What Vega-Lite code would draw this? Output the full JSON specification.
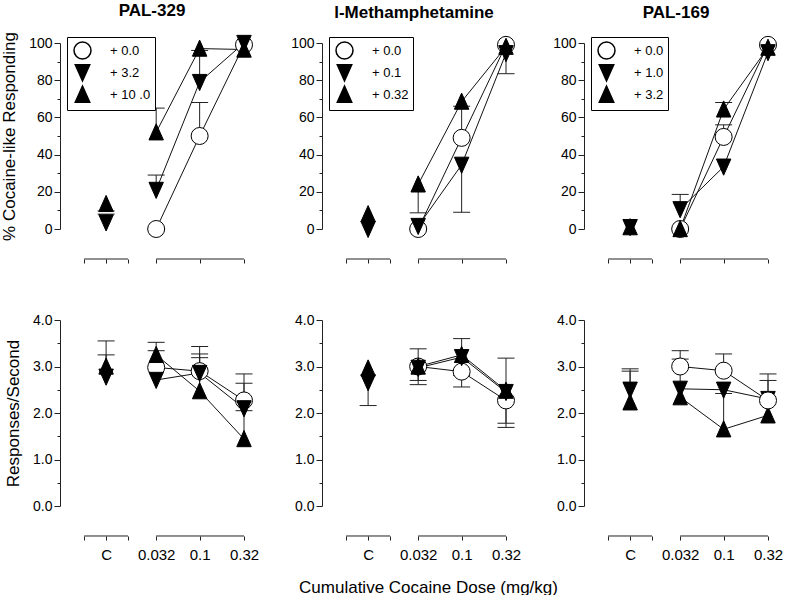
{
  "$schema": "https://vega.github.io/schema/vega-lite/v6.json",
  "padding": {"left": 0, "top": 1, "right": 0, "bottom": 0},
  "config": {
    "font": "Liberation Sans",
    "view": {"stroke": null},
    "axis": {"grid": false, "domainColor": "#222", "tickColor": "#222", "labelColor": "black", "titleColor": "black", "titleFontWeight": "normal"},
    "legend": {"labelFont": "Liberation Sans", "labelColor": "black"},
    "title": {"color": "black"}
  },
  "datasets": {
    "d": [
      {"drug": "PAL-329", "m": "pct", "dose": "0.032", "grp": "+ 0.0", "val": 0, "err": null},
      {"drug": "PAL-329", "m": "pct", "dose": "0.1", "grp": "+ 0.0", "val": 50, "err": 68},
      {"drug": "PAL-329", "m": "pct", "dose": "0.32", "grp": "+ 0.0", "val": 99, "err": null},
      {"drug": "PAL-329", "m": "pct", "dose": "C", "grp": "+ 3.2", "val": 3.5, "err": 8},
      {"drug": "PAL-329", "m": "pct", "dose": "0.032", "grp": "+ 3.2", "val": 21, "err": 29},
      {"drug": "PAL-329", "m": "pct", "dose": "0.1", "grp": "+ 3.2", "val": 79, "err": 96},
      {"drug": "PAL-329", "m": "pct", "dose": "0.32", "grp": "+ 3.2", "val": 100, "err": null},
      {"drug": "PAL-329", "m": "pct", "dose": "C", "grp": "+ 10 .0", "val": 13.5, "err": 9.7},
      {"drug": "PAL-329", "m": "pct", "dose": "0.032", "grp": "+ 10 .0", "val": 52, "err": 65},
      {"drug": "PAL-329", "m": "pct", "dose": "0.1", "grp": "+ 10 .0", "val": 97, "err": null},
      {"drug": "PAL-329", "m": "pct", "dose": "0.32", "grp": "+ 10 .0", "val": 96.5, "err": null},

      {"drug": "l-Meth", "m": "pct", "dose": "0.032", "grp": "+ 0.0", "val": 0, "err": null},
      {"drug": "l-Meth", "m": "pct", "dose": "0.1", "grp": "+ 0.0", "val": 49, "err": 66},
      {"drug": "l-Meth", "m": "pct", "dose": "0.32", "grp": "+ 0.0", "val": 99, "err": null},
      {"drug": "l-Meth", "m": "pct", "dose": "C", "grp": "+ 0.1", "val": 0, "err": null},
      {"drug": "l-Meth", "m": "pct", "dose": "0.032", "grp": "+ 0.1", "val": 1.6, "err": null},
      {"drug": "l-Meth", "m": "pct", "dose": "0.1", "grp": "+ 0.1", "val": 34.5, "err": 9},
      {"drug": "l-Meth", "m": "pct", "dose": "0.32", "grp": "+ 0.1", "val": 94.5, "err": 83.5},
      {"drug": "l-Meth", "m": "pct", "dose": "C", "grp": "+ 0.32", "val": 8, "err": null},
      {"drug": "l-Meth", "m": "pct", "dose": "0.032", "grp": "+ 0.32", "val": 24, "err": 8.7},
      {"drug": "l-Meth", "m": "pct", "dose": "0.1", "grp": "+ 0.32", "val": 68.5, "err": null},
      {"drug": "l-Meth", "m": "pct", "dose": "0.32", "grp": "+ 0.32", "val": 98, "err": null},

      {"drug": "PAL-169", "m": "pct", "dose": "0.032", "grp": "+ 0.0", "val": 0, "err": null},
      {"drug": "PAL-169", "m": "pct", "dose": "0.1", "grp": "+ 0.0", "val": 49.5, "err": 56},
      {"drug": "PAL-169", "m": "pct", "dose": "0.32", "grp": "+ 0.0", "val": 99, "err": null},
      {"drug": "PAL-169", "m": "pct", "dose": "C", "grp": "+ 1.0", "val": 1, "err": null},
      {"drug": "PAL-169", "m": "pct", "dose": "0.032", "grp": "+ 1.0", "val": 10.6, "err": 18.6},
      {"drug": "PAL-169", "m": "pct", "dose": "0.1", "grp": "+ 1.0", "val": 33.5, "err": null},
      {"drug": "PAL-169", "m": "pct", "dose": "0.32", "grp": "+ 1.0", "val": 95, "err": null},
      {"drug": "PAL-169", "m": "pct", "dose": "C", "grp": "+ 3.2", "val": 1, "err": null},
      {"drug": "PAL-169", "m": "pct", "dose": "0.032", "grp": "+ 3.2", "val": 0, "err": null},
      {"drug": "PAL-169", "m": "pct", "dose": "0.1", "grp": "+ 3.2", "val": 64.3, "err": 68},
      {"drug": "PAL-169", "m": "pct", "dose": "0.32", "grp": "+ 3.2", "val": 97.5, "err": null},

      {"drug": "PAL-329", "m": "rate", "dose": "0.032", "grp": "+ 0.0", "val": 2.98, "err": 3.34},
      {"drug": "PAL-329", "m": "rate", "dose": "0.1", "grp": "+ 0.0", "val": 2.9, "err": 3.43},
      {"drug": "PAL-329", "m": "rate", "dose": "0.32", "grp": "+ 0.0", "val": 2.27, "err": 2.84},
      {"drug": "PAL-329", "m": "rate", "dose": "C", "grp": "+ 3.2", "val": 2.78, "err": 3.25},
      {"drug": "PAL-329", "m": "rate", "dose": "0.032", "grp": "+ 3.2", "val": 2.71, "err": null},
      {"drug": "PAL-329", "m": "rate", "dose": "0.1", "grp": "+ 3.2", "val": 2.86, "err": 3.27},
      {"drug": "PAL-329", "m": "rate", "dose": "0.32", "grp": "+ 3.2", "val": 2.1, "err": 2.64},
      {"drug": "PAL-329", "m": "rate", "dose": "C", "grp": "+ 10 .0", "val": 3.0, "err": 3.55},
      {"drug": "PAL-329", "m": "rate", "dose": "0.032", "grp": "+ 10 .0", "val": 3.25, "err": 3.52},
      {"drug": "PAL-329", "m": "rate", "dose": "0.1", "grp": "+ 10 .0", "val": 2.47, "err": 3.19},
      {"drug": "PAL-329", "m": "rate", "dose": "0.32", "grp": "+ 10 .0", "val": 1.44, "err": 2.05},

      {"drug": "l-Meth", "m": "rate", "dose": "0.032", "grp": "+ 0.0", "val": 3.0, "err": 3.38},
      {"drug": "l-Meth", "m": "rate", "dose": "0.1", "grp": "+ 0.0", "val": 2.89, "err": 2.56},
      {"drug": "l-Meth", "m": "rate", "dose": "0.32", "grp": "+ 0.0", "val": 2.27, "err": 1.69},
      {"drug": "l-Meth", "m": "rate", "dose": "C", "grp": "+ 0.1", "val": 2.66, "err": 2.16},
      {"drug": "l-Meth", "m": "rate", "dose": "0.032", "grp": "+ 0.1", "val": 2.97, "err": 2.61},
      {"drug": "l-Meth", "m": "rate", "dose": "0.1", "grp": "+ 0.1", "val": 3.2, "err": 2.81},
      {"drug": "l-Meth", "m": "rate", "dose": "0.32", "grp": "+ 0.1", "val": 2.45, "err": 1.78},
      {"drug": "l-Meth", "m": "rate", "dose": "C", "grp": "+ 0.32", "val": 2.96, "err": null},
      {"drug": "l-Meth", "m": "rate", "dose": "0.032", "grp": "+ 0.32", "val": 3.0, "err": 2.7},
      {"drug": "l-Meth", "m": "rate", "dose": "0.1", "grp": "+ 0.32", "val": 3.25, "err": 3.6},
      {"drug": "l-Meth", "m": "rate", "dose": "0.32", "grp": "+ 0.32", "val": 2.48, "err": 3.18},

      {"drug": "PAL-169", "m": "rate", "dose": "C", "grp": "+ 1.0", "val": 2.5, "err": 2.9},
      {"drug": "PAL-169", "m": "rate", "dose": "0.032", "grp": "+ 1.0", "val": 2.52, "err": 3.16},
      {"drug": "PAL-169", "m": "rate", "dose": "0.1", "grp": "+ 1.0", "val": 2.5, "err": null},
      {"drug": "PAL-169", "m": "rate", "dose": "0.32", "grp": "+ 1.0", "val": 2.3, "err": 2.7},
      {"drug": "PAL-169", "m": "rate", "dose": "C", "grp": "+ 3.2", "val": 2.23, "err": 2.95},
      {"drug": "PAL-169", "m": "rate", "dose": "0.032", "grp": "+ 3.2", "val": 2.34, "err": null},
      {"drug": "PAL-169", "m": "rate", "dose": "0.1", "grp": "+ 3.2", "val": 1.65, "err": 2.42},
      {"drug": "PAL-169", "m": "rate", "dose": "0.32", "grp": "+ 3.2", "val": 1.95, "err": null},
      {"drug": "PAL-169", "m": "rate", "dose": "0.032", "grp": "+ 0.0", "val": 3.0, "err": 3.34},
      {"drug": "PAL-169", "m": "rate", "dose": "0.1", "grp": "+ 0.0", "val": 2.91, "err": 3.27},
      {"drug": "PAL-169", "m": "rate", "dose": "0.32", "grp": "+ 0.0", "val": 2.27, "err": 2.84}
    ]
  },
  "columns": 3,
  "bounds": "flush",
  "spacing": {"row": 91, "column": 78},
  "resolve": {
    "scale": {"x": "independent", "y": "independent", "shape": "independent", "fill": "independent"},
    "legend": {"shape": "independent", "fill": "independent"},
    "axis": {"x": "independent", "y": "independent"}
  },
  "concat": [
    {
      "width": 184, "height": 186,
      "title": {"text": "PAL-329", "fontSize": 17, "fontWeight": "bold", "offset": 12, "frame": "group"},
      "data": {"name": "d"},
      "transform": [
        {"filter": "datum.drug === 'PAL-329' && datum.m === 'pct'"},
        {"calculate": "datum.dose === 'C' ? -2.065 : log(toNumber(datum.dose)) / LN10", "as": "xpos"}
      ],
      "layer": [
        {"transform": [{"aggregate": [{"op": "count", "as": "n"}]}], "mark": {"type": "rule", "color": "#222", "strokeWidth": 1},
          "encoding": {
            "x": {"datum": -2.315, "type": "quantitative", "scale": {"domain": [-2.59, -0.49485], "nice": false, "zero": false},
              "axis": {"values": [-2.315, -2.065, -1.815, -1.49485, -1, -0.49485], "domain": false, "offset": 30, "tickSize": 4, "labels": false, "title": null}},
            "x2": {"datum": -1.815},
            "y": {"datum": -16.13, "type": "quantitative", "scale": {"domain": [0, 100], "nice": false, "zero": false},
              "axis": {"values": [0, 10, 20, 30, 40, 50, 60, 70, 80, 90, 100], "labelExpr": "datum.value % 20 === 0 ? datum.label : ''", "tickSize": {"condition": {"test": "datum.value % 20 !== 0", "value": 3}, "value": 6}, "labelFontSize": 14, "labelPadding": 2, "labelOverlap": false, "title": "% Cocaine-like Responding", "titleFontSize": 17, "titlePadding": 10}}}},
        {"transform": [{"aggregate": [{"op": "count", "as": "n"}]}], "mark": {"type": "rule", "color": "#222", "strokeWidth": 1},
          "encoding": {
            "x": {"datum": -1.49485, "type": "quantitative", "scale": {"domain": [-2.59, -0.49485], "nice": false, "zero": false},
              "axis": {"values": [-2.315, -2.065, -1.815, -1.49485, -1, -0.49485], "domain": false, "offset": 30, "tickSize": 4, "labels": false, "title": null}},
            "x2": {"datum": -0.49485},
            "y": {"datum": -16.13, "type": "quantitative", "scale": {"domain": [0, 100], "nice": false, "zero": false},
              "axis": {"values": [0, 10, 20, 30, 40, 50, 60, 70, 80, 90, 100], "labelExpr": "datum.value % 20 === 0 ? datum.label : ''", "tickSize": {"condition": {"test": "datum.value % 20 !== 0", "value": 3}, "value": 6}, "labelFontSize": 14, "labelPadding": 2, "labelOverlap": false, "title": "% Cocaine-like Responding", "titleFontSize": 17, "titlePadding": 10}}}},
        {"transform": [{"filter": "isValid(datum.err)"}], "mark": {"type": "rule", "color": "#222", "strokeWidth": 1},
          "encoding": {
            "x": {"field": "xpos", "type": "quantitative", "scale": {"domain": [-2.59, -0.49485], "nice": false, "zero": false},
              "axis": {"values": [-2.315, -2.065, -1.815, -1.49485, -1, -0.49485], "domain": false, "offset": 30, "tickSize": 4, "labels": false, "title": null}},
            "y": {"field": "val", "type": "quantitative", "scale": {"domain": [0, 100], "nice": false, "zero": false},
              "axis": {"values": [0, 10, 20, 30, 40, 50, 60, 70, 80, 90, 100], "labelExpr": "datum.value % 20 === 0 ? datum.label : ''", "tickSize": {"condition": {"test": "datum.value % 20 !== 0", "value": 3}, "value": 6}, "labelFontSize": 14, "labelPadding": 2, "labelOverlap": false, "title": "% Cocaine-like Responding", "titleFontSize": 17, "titlePadding": 10}},
            "y2": {"field": "err"}}},
        {"transform": [{"filter": "isValid(datum.err)"}], "mark": {"type": "tick", "orient": "horizontal", "color": "#222", "size": 17, "thickness": 1, "opacity": 1},
          "encoding": {
            "x": {"field": "xpos", "type": "quantitative", "scale": {"domain": [-2.59, -0.49485], "nice": false, "zero": false},
              "axis": {"values": [-2.315, -2.065, -1.815, -1.49485, -1, -0.49485], "domain": false, "offset": 30, "tickSize": 4, "labels": false, "title": null}},
            "y": {"field": "err", "type": "quantitative", "scale": {"domain": [0, 100], "nice": false, "zero": false},
              "axis": {"values": [0, 10, 20, 30, 40, 50, 60, 70, 80, 90, 100], "labelExpr": "datum.value % 20 === 0 ? datum.label : ''", "tickSize": {"condition": {"test": "datum.value % 20 !== 0", "value": 3}, "value": 6}, "labelFontSize": 14, "labelPadding": 2, "labelOverlap": false, "title": "% Cocaine-like Responding", "titleFontSize": 17, "titlePadding": 10}}}},
        {"transform": [{"filter": "datum.dose !== 'C'"}], "mark": {"type": "line", "color": "#111", "strokeWidth": 1},
          "encoding": {
            "x": {"field": "xpos", "type": "quantitative", "scale": {"domain": [-2.59, -0.49485], "nice": false, "zero": false},
              "axis": {"values": [-2.315, -2.065, -1.815, -1.49485, -1, -0.49485], "domain": false, "offset": 30, "tickSize": 4, "labels": false, "title": null}},
            "y": {"field": "val", "type": "quantitative", "scale": {"domain": [0, 100], "nice": false, "zero": false},
              "axis": {"values": [0, 10, 20, 30, 40, 50, 60, 70, 80, 90, 100], "labelExpr": "datum.value % 20 === 0 ? datum.label : ''", "tickSize": {"condition": {"test": "datum.value % 20 !== 0", "value": 3}, "value": 6}, "labelFontSize": 14, "labelPadding": 2, "labelOverlap": false, "title": "% Cocaine-like Responding", "titleFontSize": 17, "titlePadding": 10}},
            "detail": {"field": "grp"}}},
        {"mark": {"type": "point", "filled": true, "stroke": "black", "strokeWidth": 1, "opacity": 1, "size": 289},
          "encoding": {
            "x": {"field": "xpos", "type": "quantitative", "scale": {"domain": [-2.59, -0.49485], "nice": false, "zero": false},
              "axis": {"values": [-2.315, -2.065, -1.815, -1.49485, -1, -0.49485], "domain": false, "offset": 30, "tickSize": 4, "labels": false, "title": null}},
            "y": {"field": "val", "type": "quantitative", "scale": {"domain": [0, 100], "nice": false, "zero": false},
              "axis": {"values": [0, 10, 20, 30, 40, 50, 60, 70, 80, 90, 100], "labelExpr": "datum.value % 20 === 0 ? datum.label : ''", "tickSize": {"condition": {"test": "datum.value % 20 !== 0", "value": 3}, "value": 6}, "labelFontSize": 14, "labelPadding": 2, "labelOverlap": false, "title": "% Cocaine-like Responding", "titleFontSize": 17, "titlePadding": 10}},
            "shape": {"field": "grp", "type": "nominal", "scale": {"domain": ["+ 0.0", "+ 3.2", "+ 10 .0"], "range": ["circle", "M-0.85,-0.9L0.85,-0.9L0,1Z", "M0,-1L0.85,0.9L-0.85,0.9Z"]},
              "legend": {"orient": "none", "legendX": 7, "legendY": -6, "title": null, "strokeColor": "black", "fillColor": "white", "padding": 4,
                "labelFontSize": 13, "symbolSize": 289, "symbolOffset": 2, "labelOffset": 18, "rowPadding": -1,
                "labelExpr": "datum.label + '\u00a0\u00a0\u00a0\u00a0'",
                "encode": {"symbols": {
                  "shape": {"value": {"expr": "datum.index === 0 ? 'M-1.4,0L-1,0M1,0L1.4,0M-1,0C-1,-0.5523,-0.5523,-1,0,-1C0.5523,-1,1,-0.5523,1,0C1,0.5523,0.5523,1,0,1C-0.5523,1,-1,0.5523,-1,0Z' : datum.index === 1 ? 'M-1.4,0L1.4,0M-0.85,-0.9L0.85,-0.9L0,1Z' : 'M-1.4,0L1.4,0M0,-1L0.85,0.9L-0.85,0.9Z'"}},
                  "fill": {"value": {"expr": "datum.index === 0 ? 'white' : 'black'"}},
                  "stroke": {"value": "black"}, "strokeWidth": {"value": 1}, "opacity": {"value": 1}}}}},
            "fill": {"field": "grp", "type": "nominal", "scale": {"domain": ["+ 0.0", "+ 3.2", "+ 10 .0"], "range": ["white", "black", "black"]}, "legend": null}
          }}
      ]
    },
    {
      "width": 184, "height": 186,
      "title": {"text": "l-Methamphetamine", "fontSize": 17, "fontWeight": "bold", "offset": 12, "frame": "group"},
      "data": {"name": "d"},
      "transform": [
        {"filter": "datum.drug === 'l-Meth' && datum.m === 'pct'"},
        {"calculate": "datum.dose === 'C' ? -2.065 : log(toNumber(datum.dose)) / LN10", "as": "xpos"}
      ],
      "layer": [
        {"transform": [{"aggregate": [{"op": "count", "as": "n"}]}], "mark": {"type": "rule", "color": "#222", "strokeWidth": 1},
          "encoding": {
            "x": {"datum": -2.315, "type": "quantitative", "scale": {"domain": [-2.59, -0.49485], "nice": false, "zero": false},
              "axis": {"values": [-2.315, -2.065, -1.815, -1.49485, -1, -0.49485], "domain": false, "offset": 30, "tickSize": 4, "labels": false, "title": null}},
            "x2": {"datum": -1.815},
            "y": {"datum": -16.13, "type": "quantitative", "scale": {"domain": [0, 100], "nice": false, "zero": false},
              "axis": {"values": [0, 10, 20, 30, 40, 50, 60, 70, 80, 90, 100], "labelExpr": "datum.value % 20 === 0 ? datum.label : ''", "tickSize": {"condition": {"test": "datum.value % 20 !== 0", "value": 3}, "value": 6}, "labelFontSize": 14, "labelPadding": 2, "labelOverlap": false, "title": null}}}},
        {"transform": [{"aggregate": [{"op": "count", "as": "n"}]}], "mark": {"type": "rule", "color": "#222", "strokeWidth": 1},
          "encoding": {
            "x": {"datum": -1.49485, "type": "quantitative", "scale": {"domain": [-2.59, -0.49485], "nice": false, "zero": false},
              "axis": {"values": [-2.315, -2.065, -1.815, -1.49485, -1, -0.49485], "domain": false, "offset": 30, "tickSize": 4, "labels": false, "title": null}},
            "x2": {"datum": -0.49485},
            "y": {"datum": -16.13, "type": "quantitative", "scale": {"domain": [0, 100], "nice": false, "zero": false},
              "axis": {"values": [0, 10, 20, 30, 40, 50, 60, 70, 80, 90, 100], "labelExpr": "datum.value % 20 === 0 ? datum.label : ''", "tickSize": {"condition": {"test": "datum.value % 20 !== 0", "value": 3}, "value": 6}, "labelFontSize": 14, "labelPadding": 2, "labelOverlap": false, "title": null}}}},
        {"transform": [{"filter": "isValid(datum.err)"}], "mark": {"type": "rule", "color": "#222", "strokeWidth": 1},
          "encoding": {
            "x": {"field": "xpos", "type": "quantitative", "scale": {"domain": [-2.59, -0.49485], "nice": false, "zero": false},
              "axis": {"values": [-2.315, -2.065, -1.815, -1.49485, -1, -0.49485], "domain": false, "offset": 30, "tickSize": 4, "labels": false, "title": null}},
            "y": {"field": "val", "type": "quantitative", "scale": {"domain": [0, 100], "nice": false, "zero": false},
              "axis": {"values": [0, 10, 20, 30, 40, 50, 60, 70, 80, 90, 100], "labelExpr": "datum.value % 20 === 0 ? datum.label : ''", "tickSize": {"condition": {"test": "datum.value % 20 !== 0", "value": 3}, "value": 6}, "labelFontSize": 14, "labelPadding": 2, "labelOverlap": false, "title": null}},
            "y2": {"field": "err"}}},
        {"transform": [{"filter": "isValid(datum.err)"}], "mark": {"type": "tick", "orient": "horizontal", "color": "#222", "size": 17, "thickness": 1, "opacity": 1},
          "encoding": {
            "x": {"field": "xpos", "type": "quantitative", "scale": {"domain": [-2.59, -0.49485], "nice": false, "zero": false},
              "axis": {"values": [-2.315, -2.065, -1.815, -1.49485, -1, -0.49485], "domain": false, "offset": 30, "tickSize": 4, "labels": false, "title": null}},
            "y": {"field": "err", "type": "quantitative", "scale": {"domain": [0, 100], "nice": false, "zero": false},
              "axis": {"values": [0, 10, 20, 30, 40, 50, 60, 70, 80, 90, 100], "labelExpr": "datum.value % 20 === 0 ? datum.label : ''", "tickSize": {"condition": {"test": "datum.value % 20 !== 0", "value": 3}, "value": 6}, "labelFontSize": 14, "labelPadding": 2, "labelOverlap": false, "title": null}}}},
        {"transform": [{"filter": "datum.dose !== 'C'"}], "mark": {"type": "line", "color": "#111", "strokeWidth": 1},
          "encoding": {
            "x": {"field": "xpos", "type": "quantitative", "scale": {"domain": [-2.59, -0.49485], "nice": false, "zero": false},
              "axis": {"values": [-2.315, -2.065, -1.815, -1.49485, -1, -0.49485], "domain": false, "offset": 30, "tickSize": 4, "labels": false, "title": null}},
            "y": {"field": "val", "type": "quantitative", "scale": {"domain": [0, 100], "nice": false, "zero": false},
              "axis": {"values": [0, 10, 20, 30, 40, 50, 60, 70, 80, 90, 100], "labelExpr": "datum.value % 20 === 0 ? datum.label : ''", "tickSize": {"condition": {"test": "datum.value % 20 !== 0", "value": 3}, "value": 6}, "labelFontSize": 14, "labelPadding": 2, "labelOverlap": false, "title": null}},
            "detail": {"field": "grp"}}},
        {"mark": {"type": "point", "filled": true, "stroke": "black", "strokeWidth": 1, "opacity": 1, "size": 289},
          "encoding": {
            "x": {"field": "xpos", "type": "quantitative", "scale": {"domain": [-2.59, -0.49485], "nice": false, "zero": false},
              "axis": {"values": [-2.315, -2.065, -1.815, -1.49485, -1, -0.49485], "domain": false, "offset": 30, "tickSize": 4, "labels": false, "title": null}},
            "y": {"field": "val", "type": "quantitative", "scale": {"domain": [0, 100], "nice": false, "zero": false},
              "axis": {"values": [0, 10, 20, 30, 40, 50, 60, 70, 80, 90, 100], "labelExpr": "datum.value % 20 === 0 ? datum.label : ''", "tickSize": {"condition": {"test": "datum.value % 20 !== 0", "value": 3}, "value": 6}, "labelFontSize": 14, "labelPadding": 2, "labelOverlap": false, "title": null}},
            "shape": {"field": "grp", "type": "nominal", "scale": {"domain": ["+ 0.0", "+ 0.1", "+ 0.32"], "range": ["circle", "M-0.85,-0.9L0.85,-0.9L0,1Z", "M0,-1L0.85,0.9L-0.85,0.9Z"]},
              "legend": {"orient": "none", "legendX": 7, "legendY": -6, "title": null, "strokeColor": "black", "fillColor": "white", "padding": 4,
                "labelFontSize": 13, "symbolSize": 289, "symbolOffset": 2, "labelOffset": 18, "rowPadding": -1,
                "labelExpr": "datum.label + '\u00a0\u00a0\u00a0\u00a0'",
                "encode": {"symbols": {
                  "shape": {"value": {"expr": "datum.index === 0 ? 'M-1.4,0L-1,0M1,0L1.4,0M-1,0C-1,-0.5523,-0.5523,-1,0,-1C0.5523,-1,1,-0.5523,1,0C1,0.5523,0.5523,1,0,1C-0.5523,1,-1,0.5523,-1,0Z' : datum.index === 1 ? 'M-1.4,0L1.4,0M-0.85,-0.9L0.85,-0.9L0,1Z' : 'M-1.4,0L1.4,0M0,-1L0.85,0.9L-0.85,0.9Z'"}},
                  "fill": {"value": {"expr": "datum.index === 0 ? 'white' : 'black'"}},
                  "stroke": {"value": "black"}, "strokeWidth": {"value": 1}, "opacity": {"value": 1}}}}},
            "fill": {"field": "grp", "type": "nominal", "scale": {"domain": ["+ 0.0", "+ 0.1", "+ 0.32"], "range": ["white", "black", "black"]}, "legend": null}
          }}
      ]
    },
    {
      "width": 184, "height": 186,
      "title": {"text": "PAL-169", "fontSize": 17, "fontWeight": "bold", "offset": 12, "frame": "group"},
      "data": {"name": "d"},
      "transform": [
        {"filter": "datum.drug === 'PAL-169' && datum.m === 'pct'"},
        {"calculate": "datum.dose === 'C' ? -2.065 : log(toNumber(datum.dose)) / LN10", "as": "xpos"}
      ],
      "layer": [
        {"transform": [{"aggregate": [{"op": "count", "as": "n"}]}], "mark": {"type": "rule", "color": "#222", "strokeWidth": 1},
          "encoding": {
            "x": {"datum": -2.315, "type": "quantitative", "scale": {"domain": [-2.59, -0.49485], "nice": false, "zero": false},
              "axis": {"values": [-2.315, -2.065, -1.815, -1.49485, -1, -0.49485], "domain": false, "offset": 30, "tickSize": 4, "labels": false, "title": null}},
            "x2": {"datum": -1.815},
            "y": {"datum": -16.13, "type": "quantitative", "scale": {"domain": [0, 100], "nice": false, "zero": false},
              "axis": {"values": [0, 10, 20, 30, 40, 50, 60, 70, 80, 90, 100], "labelExpr": "datum.value % 20 === 0 ? datum.label : ''", "tickSize": {"condition": {"test": "datum.value % 20 !== 0", "value": 3}, "value": 6}, "labelFontSize": 14, "labelPadding": 2, "labelOverlap": false, "title": null}}}},
        {"transform": [{"aggregate": [{"op": "count", "as": "n"}]}], "mark": {"type": "rule", "color": "#222", "strokeWidth": 1},
          "encoding": {
            "x": {"datum": -1.49485, "type": "quantitative", "scale": {"domain": [-2.59, -0.49485], "nice": false, "zero": false},
              "axis": {"values": [-2.315, -2.065, -1.815, -1.49485, -1, -0.49485], "domain": false, "offset": 30, "tickSize": 4, "labels": false, "title": null}},
            "x2": {"datum": -0.49485},
            "y": {"datum": -16.13, "type": "quantitative", "scale": {"domain": [0, 100], "nice": false, "zero": false},
              "axis": {"values": [0, 10, 20, 30, 40, 50, 60, 70, 80, 90, 100], "labelExpr": "datum.value % 20 === 0 ? datum.label : ''", "tickSize": {"condition": {"test": "datum.value % 20 !== 0", "value": 3}, "value": 6}, "labelFontSize": 14, "labelPadding": 2, "labelOverlap": false, "title": null}}}},
        {"transform": [{"filter": "isValid(datum.err)"}], "mark": {"type": "rule", "color": "#222", "strokeWidth": 1},
          "encoding": {
            "x": {"field": "xpos", "type": "quantitative", "scale": {"domain": [-2.59, -0.49485], "nice": false, "zero": false},
              "axis": {"values": [-2.315, -2.065, -1.815, -1.49485, -1, -0.49485], "domain": false, "offset": 30, "tickSize": 4, "labels": false, "title": null}},
            "y": {"field": "val", "type": "quantitative", "scale": {"domain": [0, 100], "nice": false, "zero": false},
              "axis": {"values": [0, 10, 20, 30, 40, 50, 60, 70, 80, 90, 100], "labelExpr": "datum.value % 20 === 0 ? datum.label : ''", "tickSize": {"condition": {"test": "datum.value % 20 !== 0", "value": 3}, "value": 6}, "labelFontSize": 14, "labelPadding": 2, "labelOverlap": false, "title": null}},
            "y2": {"field": "err"}}},
        {"transform": [{"filter": "isValid(datum.err)"}], "mark": {"type": "tick", "orient": "horizontal", "color": "#222", "size": 17, "thickness": 1, "opacity": 1},
          "encoding": {
            "x": {"field": "xpos", "type": "quantitative", "scale": {"domain": [-2.59, -0.49485], "nice": false, "zero": false},
              "axis": {"values": [-2.315, -2.065, -1.815, -1.49485, -1, -0.49485], "domain": false, "offset": 30, "tickSize": 4, "labels": false, "title": null}},
            "y": {"field": "err", "type": "quantitative", "scale": {"domain": [0, 100], "nice": false, "zero": false},
              "axis": {"values": [0, 10, 20, 30, 40, 50, 60, 70, 80, 90, 100], "labelExpr": "datum.value % 20 === 0 ? datum.label : ''", "tickSize": {"condition": {"test": "datum.value % 20 !== 0", "value": 3}, "value": 6}, "labelFontSize": 14, "labelPadding": 2, "labelOverlap": false, "title": null}}}},
        {"transform": [{"filter": "datum.dose !== 'C'"}], "mark": {"type": "line", "color": "#111", "strokeWidth": 1},
          "encoding": {
            "x": {"field": "xpos", "type": "quantitative", "scale": {"domain": [-2.59, -0.49485], "nice": false, "zero": false},
              "axis": {"values": [-2.315, -2.065, -1.815, -1.49485, -1, -0.49485], "domain": false, "offset": 30, "tickSize": 4, "labels": false, "title": null}},
            "y": {"field": "val", "type": "quantitative", "scale": {"domain": [0, 100], "nice": false, "zero": false},
              "axis": {"values": [0, 10, 20, 30, 40, 50, 60, 70, 80, 90, 100], "labelExpr": "datum.value % 20 === 0 ? datum.label : ''", "tickSize": {"condition": {"test": "datum.value % 20 !== 0", "value": 3}, "value": 6}, "labelFontSize": 14, "labelPadding": 2, "labelOverlap": false, "title": null}},
            "detail": {"field": "grp"}}},
        {"mark": {"type": "point", "filled": true, "stroke": "black", "strokeWidth": 1, "opacity": 1, "size": 289},
          "encoding": {
            "x": {"field": "xpos", "type": "quantitative", "scale": {"domain": [-2.59, -0.49485], "nice": false, "zero": false},
              "axis": {"values": [-2.315, -2.065, -1.815, -1.49485, -1, -0.49485], "domain": false, "offset": 30, "tickSize": 4, "labels": false, "title": null}},
            "y": {"field": "val", "type": "quantitative", "scale": {"domain": [0, 100], "nice": false, "zero": false},
              "axis": {"values": [0, 10, 20, 30, 40, 50, 60, 70, 80, 90, 100], "labelExpr": "datum.value % 20 === 0 ? datum.label : ''", "tickSize": {"condition": {"test": "datum.value % 20 !== 0", "value": 3}, "value": 6}, "labelFontSize": 14, "labelPadding": 2, "labelOverlap": false, "title": null}},
            "shape": {"field": "grp", "type": "nominal", "scale": {"domain": ["+ 0.0", "+ 1.0", "+ 3.2"], "range": ["circle", "M-0.85,-0.9L0.85,-0.9L0,1Z", "M0,-1L0.85,0.9L-0.85,0.9Z"]},
              "legend": {"orient": "none", "legendX": 7, "legendY": -6, "title": null, "strokeColor": "black", "fillColor": "white", "padding": 4,
                "labelFontSize": 13, "symbolSize": 289, "symbolOffset": 2, "labelOffset": 18, "rowPadding": -1,
                "labelExpr": "datum.label + '\u00a0\u00a0\u00a0\u00a0'",
                "encode": {"symbols": {
                  "shape": {"value": {"expr": "datum.index === 0 ? 'M-1.4,0L-1,0M1,0L1.4,0M-1,0C-1,-0.5523,-0.5523,-1,0,-1C0.5523,-1,1,-0.5523,1,0C1,0.5523,0.5523,1,0,1C-0.5523,1,-1,0.5523,-1,0Z' : datum.index === 1 ? 'M-1.4,0L1.4,0M-0.85,-0.9L0.85,-0.9L0,1Z' : 'M-1.4,0L1.4,0M0,-1L0.85,0.9L-0.85,0.9Z'"}},
                  "fill": {"value": {"expr": "datum.index === 0 ? 'white' : 'black'"}},
                  "stroke": {"value": "black"}, "strokeWidth": {"value": 1}, "opacity": {"value": 1}}}}},
            "fill": {"field": "grp", "type": "nominal", "scale": {"domain": ["+ 0.0", "+ 1.0", "+ 3.2"], "range": ["white", "black", "black"]}, "legend": null}
          }}
      ]
    },
    {
      "width": 184, "height": 186,
      "data": {"name": "d"},
      "transform": [
        {"filter": "datum.drug === 'PAL-329' && datum.m === 'rate'"},
        {"calculate": "datum.dose === 'C' ? -2.065 : log(toNumber(datum.dose)) / LN10", "as": "xpos"}
      ],
      "layer": [
        {"transform": [{"aggregate": [{"op": "count", "as": "n"}]}], "mark": {"type": "rule", "color": "#222", "strokeWidth": 1},
          "encoding": {
            "x": {"datum": -2.315, "type": "quantitative", "scale": {"domain": [-2.59, -0.49485], "nice": false, "zero": false},
              "axis": {"values": [-2.315, -2.065, -1.815, -1.49485, -1, -0.49485], "domain": false, "offset": 30, "tickSize": 4, "title": null, "labelExpr": "datum.value === -2.065 ? 'C' : datum.value === -1.49485 ? '0.032' : datum.value === -1 ? '0.1' : datum.value === -0.49485 ? '0.32' : ''", "labelFontSize": 15, "labelPadding": 7, "labelFlush": false, "labelOverlap": false}},
            "x2": {"datum": -1.815},
            "y": {"datum": -0.645, "type": "quantitative", "scale": {"domain": [0, 4], "nice": false, "zero": false},
              "axis": {"values": [0, 0.5, 1, 1.5, 2, 2.5, 3, 3.5, 4], "labelExpr": "datum.value % 1 === 0 ? format(datum.value, '.1f') : ''", "tickSize": {"condition": {"test": "datum.value % 1 !== 0", "value": 3}, "value": 6}, "labelFontSize": 14, "labelPadding": 2, "labelOverlap": false, "title": "Responses/Second", "titleFontSize": 17, "titlePadding": 10}}}},
        {"transform": [{"aggregate": [{"op": "count", "as": "n"}]}], "mark": {"type": "rule", "color": "#222", "strokeWidth": 1},
          "encoding": {
            "x": {"datum": -1.49485, "type": "quantitative", "scale": {"domain": [-2.59, -0.49485], "nice": false, "zero": false},
              "axis": {"values": [-2.315, -2.065, -1.815, -1.49485, -1, -0.49485], "domain": false, "offset": 30, "tickSize": 4, "title": null, "labelExpr": "datum.value === -2.065 ? 'C' : datum.value === -1.49485 ? '0.032' : datum.value === -1 ? '0.1' : datum.value === -0.49485 ? '0.32' : ''", "labelFontSize": 15, "labelPadding": 7, "labelFlush": false, "labelOverlap": false}},
            "x2": {"datum": -0.49485},
            "y": {"datum": -0.645, "type": "quantitative", "scale": {"domain": [0, 4], "nice": false, "zero": false},
              "axis": {"values": [0, 0.5, 1, 1.5, 2, 2.5, 3, 3.5, 4], "labelExpr": "datum.value % 1 === 0 ? format(datum.value, '.1f') : ''", "tickSize": {"condition": {"test": "datum.value % 1 !== 0", "value": 3}, "value": 6}, "labelFontSize": 14, "labelPadding": 2, "labelOverlap": false, "title": "Responses/Second", "titleFontSize": 17, "titlePadding": 10}}}},
        {"transform": [{"filter": "isValid(datum.err)"}], "mark": {"type": "rule", "color": "#222", "strokeWidth": 1},
          "encoding": {
            "x": {"field": "xpos", "type": "quantitative", "scale": {"domain": [-2.59, -0.49485], "nice": false, "zero": false},
              "axis": {"values": [-2.315, -2.065, -1.815, -1.49485, -1, -0.49485], "domain": false, "offset": 30, "tickSize": 4, "title": null, "labelExpr": "datum.value === -2.065 ? 'C' : datum.value === -1.49485 ? '0.032' : datum.value === -1 ? '0.1' : datum.value === -0.49485 ? '0.32' : ''", "labelFontSize": 15, "labelPadding": 7, "labelFlush": false, "labelOverlap": false}},
            "y": {"field": "val", "type": "quantitative", "scale": {"domain": [0, 4], "nice": false, "zero": false},
              "axis": {"values": [0, 0.5, 1, 1.5, 2, 2.5, 3, 3.5, 4], "labelExpr": "datum.value % 1 === 0 ? format(datum.value, '.1f') : ''", "tickSize": {"condition": {"test": "datum.value % 1 !== 0", "value": 3}, "value": 6}, "labelFontSize": 14, "labelPadding": 2, "labelOverlap": false, "title": "Responses/Second", "titleFontSize": 17, "titlePadding": 10}},
            "y2": {"field": "err"}}},
        {"transform": [{"filter": "isValid(datum.err)"}], "mark": {"type": "tick", "orient": "horizontal", "color": "#222", "size": 17, "thickness": 1, "opacity": 1},
          "encoding": {
            "x": {"field": "xpos", "type": "quantitative", "scale": {"domain": [-2.59, -0.49485], "nice": false, "zero": false},
              "axis": {"values": [-2.315, -2.065, -1.815, -1.49485, -1, -0.49485], "domain": false, "offset": 30, "tickSize": 4, "title": null, "labelExpr": "datum.value === -2.065 ? 'C' : datum.value === -1.49485 ? '0.032' : datum.value === -1 ? '0.1' : datum.value === -0.49485 ? '0.32' : ''", "labelFontSize": 15, "labelPadding": 7, "labelFlush": false, "labelOverlap": false}},
            "y": {"field": "err", "type": "quantitative", "scale": {"domain": [0, 4], "nice": false, "zero": false},
              "axis": {"values": [0, 0.5, 1, 1.5, 2, 2.5, 3, 3.5, 4], "labelExpr": "datum.value % 1 === 0 ? format(datum.value, '.1f') : ''", "tickSize": {"condition": {"test": "datum.value % 1 !== 0", "value": 3}, "value": 6}, "labelFontSize": 14, "labelPadding": 2, "labelOverlap": false, "title": "Responses/Second", "titleFontSize": 17, "titlePadding": 10}}}},
        {"transform": [{"filter": "datum.dose !== 'C'"}], "mark": {"type": "line", "color": "#111", "strokeWidth": 1},
          "encoding": {
            "x": {"field": "xpos", "type": "quantitative", "scale": {"domain": [-2.59, -0.49485], "nice": false, "zero": false},
              "axis": {"values": [-2.315, -2.065, -1.815, -1.49485, -1, -0.49485], "domain": false, "offset": 30, "tickSize": 4, "title": null, "labelExpr": "datum.value === -2.065 ? 'C' : datum.value === -1.49485 ? '0.032' : datum.value === -1 ? '0.1' : datum.value === -0.49485 ? '0.32' : ''", "labelFontSize": 15, "labelPadding": 7, "labelFlush": false, "labelOverlap": false}},
            "y": {"field": "val", "type": "quantitative", "scale": {"domain": [0, 4], "nice": false, "zero": false},
              "axis": {"values": [0, 0.5, 1, 1.5, 2, 2.5, 3, 3.5, 4], "labelExpr": "datum.value % 1 === 0 ? format(datum.value, '.1f') : ''", "tickSize": {"condition": {"test": "datum.value % 1 !== 0", "value": 3}, "value": 6}, "labelFontSize": 14, "labelPadding": 2, "labelOverlap": false, "title": "Responses/Second", "titleFontSize": 17, "titlePadding": 10}},
            "detail": {"field": "grp"}}},
        {"mark": {"type": "point", "filled": true, "stroke": "black", "strokeWidth": 1, "opacity": 1, "size": 289},
          "encoding": {
            "x": {"field": "xpos", "type": "quantitative", "scale": {"domain": [-2.59, -0.49485], "nice": false, "zero": false},
              "axis": {"values": [-2.315, -2.065, -1.815, -1.49485, -1, -0.49485], "domain": false, "offset": 30, "tickSize": 4, "title": null, "labelExpr": "datum.value === -2.065 ? 'C' : datum.value === -1.49485 ? '0.032' : datum.value === -1 ? '0.1' : datum.value === -0.49485 ? '0.32' : ''", "labelFontSize": 15, "labelPadding": 7, "labelFlush": false, "labelOverlap": false}},
            "y": {"field": "val", "type": "quantitative", "scale": {"domain": [0, 4], "nice": false, "zero": false},
              "axis": {"values": [0, 0.5, 1, 1.5, 2, 2.5, 3, 3.5, 4], "labelExpr": "datum.value % 1 === 0 ? format(datum.value, '.1f') : ''", "tickSize": {"condition": {"test": "datum.value % 1 !== 0", "value": 3}, "value": 6}, "labelFontSize": 14, "labelPadding": 2, "labelOverlap": false, "title": "Responses/Second", "titleFontSize": 17, "titlePadding": 10}},
            "shape": {"field": "grp", "type": "nominal", "scale": {"domain": ["+ 0.0", "+ 3.2", "+ 10 .0"], "range": ["circle", "M-0.85,-0.9L0.85,-0.9L0,1Z", "M0,-1L0.85,0.9L-0.85,0.9Z"]}, "legend": null},
            "fill": {"field": "grp", "type": "nominal", "scale": {"domain": ["+ 0.0", "+ 3.2", "+ 10 .0"], "range": ["white", "black", "black"]}, "legend": null}
          }}
      ]
    },
    {
      "width": 184, "height": 186,
      "data": {"name": "d"},
      "transform": [
        {"filter": "datum.drug === 'l-Meth' && datum.m === 'rate'"},
        {"calculate": "datum.dose === 'C' ? -2.065 : log(toNumber(datum.dose)) / LN10", "as": "xpos"}
      ],
      "layer": [
        {"transform": [{"aggregate": [{"op": "count", "as": "n"}]}], "mark": {"type": "rule", "color": "#222", "strokeWidth": 1},
          "encoding": {
            "x": {"datum": -2.315, "type": "quantitative", "scale": {"domain": [-2.59, -0.49485], "nice": false, "zero": false},
              "axis": {"values": [-2.315, -2.065, -1.815, -1.49485, -1, -0.49485], "domain": false, "offset": 30, "tickSize": 4, "labelExpr": "datum.value === -2.065 ? 'C' : datum.value === -1.49485 ? '0.032' : datum.value === -1 ? '0.1' : datum.value === -0.49485 ? '0.32' : ''", "labelFontSize": 15, "labelPadding": 7, "labelFlush": false, "labelOverlap": false, "title": "Cumulative Cocaine Dose (mg/kg)", "titleFontSize": 17, "titlePadding": 17, "titleX": 106}},
            "x2": {"datum": -1.815},
            "y": {"datum": -0.645, "type": "quantitative", "scale": {"domain": [0, 4], "nice": false, "zero": false},
              "axis": {"values": [0, 0.5, 1, 1.5, 2, 2.5, 3, 3.5, 4], "labelExpr": "datum.value % 1 === 0 ? format(datum.value, '.1f') : ''", "tickSize": {"condition": {"test": "datum.value % 1 !== 0", "value": 3}, "value": 6}, "labelFontSize": 14, "labelPadding": 2, "labelOverlap": false, "title": null}}}},
        {"transform": [{"aggregate": [{"op": "count", "as": "n"}]}], "mark": {"type": "rule", "color": "#222", "strokeWidth": 1},
          "encoding": {
            "x": {"datum": -1.49485, "type": "quantitative", "scale": {"domain": [-2.59, -0.49485], "nice": false, "zero": false},
              "axis": {"values": [-2.315, -2.065, -1.815, -1.49485, -1, -0.49485], "domain": false, "offset": 30, "tickSize": 4, "labelExpr": "datum.value === -2.065 ? 'C' : datum.value === -1.49485 ? '0.032' : datum.value === -1 ? '0.1' : datum.value === -0.49485 ? '0.32' : ''", "labelFontSize": 15, "labelPadding": 7, "labelFlush": false, "labelOverlap": false, "title": "Cumulative Cocaine Dose (mg/kg)", "titleFontSize": 17, "titlePadding": 17, "titleX": 106}},
            "x2": {"datum": -0.49485},
            "y": {"datum": -0.645, "type": "quantitative", "scale": {"domain": [0, 4], "nice": false, "zero": false},
              "axis": {"values": [0, 0.5, 1, 1.5, 2, 2.5, 3, 3.5, 4], "labelExpr": "datum.value % 1 === 0 ? format(datum.value, '.1f') : ''", "tickSize": {"condition": {"test": "datum.value % 1 !== 0", "value": 3}, "value": 6}, "labelFontSize": 14, "labelPadding": 2, "labelOverlap": false, "title": null}}}},
        {"transform": [{"filter": "isValid(datum.err)"}], "mark": {"type": "rule", "color": "#222", "strokeWidth": 1},
          "encoding": {
            "x": {"field": "xpos", "type": "quantitative", "scale": {"domain": [-2.59, -0.49485], "nice": false, "zero": false},
              "axis": {"values": [-2.315, -2.065, -1.815, -1.49485, -1, -0.49485], "domain": false, "offset": 30, "tickSize": 4, "labelExpr": "datum.value === -2.065 ? 'C' : datum.value === -1.49485 ? '0.032' : datum.value === -1 ? '0.1' : datum.value === -0.49485 ? '0.32' : ''", "labelFontSize": 15, "labelPadding": 7, "labelFlush": false, "labelOverlap": false, "title": "Cumulative Cocaine Dose (mg/kg)", "titleFontSize": 17, "titlePadding": 17, "titleX": 106}},
            "y": {"field": "val", "type": "quantitative", "scale": {"domain": [0, 4], "nice": false, "zero": false},
              "axis": {"values": [0, 0.5, 1, 1.5, 2, 2.5, 3, 3.5, 4], "labelExpr": "datum.value % 1 === 0 ? format(datum.value, '.1f') : ''", "tickSize": {"condition": {"test": "datum.value % 1 !== 0", "value": 3}, "value": 6}, "labelFontSize": 14, "labelPadding": 2, "labelOverlap": false, "title": null}},
            "y2": {"field": "err"}}},
        {"transform": [{"filter": "isValid(datum.err)"}], "mark": {"type": "tick", "orient": "horizontal", "color": "#222", "size": 17, "thickness": 1, "opacity": 1},
          "encoding": {
            "x": {"field": "xpos", "type": "quantitative", "scale": {"domain": [-2.59, -0.49485], "nice": false, "zero": false},
              "axis": {"values": [-2.315, -2.065, -1.815, -1.49485, -1, -0.49485], "domain": false, "offset": 30, "tickSize": 4, "labelExpr": "datum.value === -2.065 ? 'C' : datum.value === -1.49485 ? '0.032' : datum.value === -1 ? '0.1' : datum.value === -0.49485 ? '0.32' : ''", "labelFontSize": 15, "labelPadding": 7, "labelFlush": false, "labelOverlap": false, "title": "Cumulative Cocaine Dose (mg/kg)", "titleFontSize": 17, "titlePadding": 17, "titleX": 106}},
            "y": {"field": "err", "type": "quantitative", "scale": {"domain": [0, 4], "nice": false, "zero": false},
              "axis": {"values": [0, 0.5, 1, 1.5, 2, 2.5, 3, 3.5, 4], "labelExpr": "datum.value % 1 === 0 ? format(datum.value, '.1f') : ''", "tickSize": {"condition": {"test": "datum.value % 1 !== 0", "value": 3}, "value": 6}, "labelFontSize": 14, "labelPadding": 2, "labelOverlap": false, "title": null}}}},
        {"transform": [{"filter": "datum.dose !== 'C'"}], "mark": {"type": "line", "color": "#111", "strokeWidth": 1},
          "encoding": {
            "x": {"field": "xpos", "type": "quantitative", "scale": {"domain": [-2.59, -0.49485], "nice": false, "zero": false},
              "axis": {"values": [-2.315, -2.065, -1.815, -1.49485, -1, -0.49485], "domain": false, "offset": 30, "tickSize": 4, "labelExpr": "datum.value === -2.065 ? 'C' : datum.value === -1.49485 ? '0.032' : datum.value === -1 ? '0.1' : datum.value === -0.49485 ? '0.32' : ''", "labelFontSize": 15, "labelPadding": 7, "labelFlush": false, "labelOverlap": false, "title": "Cumulative Cocaine Dose (mg/kg)", "titleFontSize": 17, "titlePadding": 17, "titleX": 106}},
            "y": {"field": "val", "type": "quantitative", "scale": {"domain": [0, 4], "nice": false, "zero": false},
              "axis": {"values": [0, 0.5, 1, 1.5, 2, 2.5, 3, 3.5, 4], "labelExpr": "datum.value % 1 === 0 ? format(datum.value, '.1f') : ''", "tickSize": {"condition": {"test": "datum.value % 1 !== 0", "value": 3}, "value": 6}, "labelFontSize": 14, "labelPadding": 2, "labelOverlap": false, "title": null}},
            "detail": {"field": "grp"}}},
        {"mark": {"type": "point", "filled": true, "stroke": "black", "strokeWidth": 1, "opacity": 1, "size": 289},
          "encoding": {
            "x": {"field": "xpos", "type": "quantitative", "scale": {"domain": [-2.59, -0.49485], "nice": false, "zero": false},
              "axis": {"values": [-2.315, -2.065, -1.815, -1.49485, -1, -0.49485], "domain": false, "offset": 30, "tickSize": 4, "labelExpr": "datum.value === -2.065 ? 'C' : datum.value === -1.49485 ? '0.032' : datum.value === -1 ? '0.1' : datum.value === -0.49485 ? '0.32' : ''", "labelFontSize": 15, "labelPadding": 7, "labelFlush": false, "labelOverlap": false, "title": "Cumulative Cocaine Dose (mg/kg)", "titleFontSize": 17, "titlePadding": 17, "titleX": 106}},
            "y": {"field": "val", "type": "quantitative", "scale": {"domain": [0, 4], "nice": false, "zero": false},
              "axis": {"values": [0, 0.5, 1, 1.5, 2, 2.5, 3, 3.5, 4], "labelExpr": "datum.value % 1 === 0 ? format(datum.value, '.1f') : ''", "tickSize": {"condition": {"test": "datum.value % 1 !== 0", "value": 3}, "value": 6}, "labelFontSize": 14, "labelPadding": 2, "labelOverlap": false, "title": null}},
            "shape": {"field": "grp", "type": "nominal", "scale": {"domain": ["+ 0.0", "+ 0.1", "+ 0.32"], "range": ["circle", "M-0.85,-0.9L0.85,-0.9L0,1Z", "M0,-1L0.85,0.9L-0.85,0.9Z"]}, "legend": null},
            "fill": {"field": "grp", "type": "nominal", "scale": {"domain": ["+ 0.0", "+ 0.1", "+ 0.32"], "range": ["white", "black", "black"]}, "legend": null}
          }}
      ]
    },
    {
      "width": 184, "height": 186,
      "data": {"name": "d"},
      "transform": [
        {"filter": "datum.drug === 'PAL-169' && datum.m === 'rate'"},
        {"calculate": "datum.dose === 'C' ? -2.065 : log(toNumber(datum.dose)) / LN10", "as": "xpos"}
      ],
      "layer": [
        {"transform": [{"aggregate": [{"op": "count", "as": "n"}]}], "mark": {"type": "rule", "color": "#222", "strokeWidth": 1},
          "encoding": {
            "x": {"datum": -2.315, "type": "quantitative", "scale": {"domain": [-2.59, -0.49485], "nice": false, "zero": false},
              "axis": {"values": [-2.315, -2.065, -1.815, -1.49485, -1, -0.49485], "domain": false, "offset": 30, "tickSize": 4, "title": null, "labelExpr": "datum.value === -2.065 ? 'C' : datum.value === -1.49485 ? '0.032' : datum.value === -1 ? '0.1' : datum.value === -0.49485 ? '0.32' : ''", "labelFontSize": 15, "labelPadding": 7, "labelFlush": false, "labelOverlap": false}},
            "x2": {"datum": -1.815},
            "y": {"datum": -0.645, "type": "quantitative", "scale": {"domain": [0, 4], "nice": false, "zero": false},
              "axis": {"values": [0, 0.5, 1, 1.5, 2, 2.5, 3, 3.5, 4], "labelExpr": "datum.value % 1 === 0 ? format(datum.value, '.1f') : ''", "tickSize": {"condition": {"test": "datum.value % 1 !== 0", "value": 3}, "value": 6}, "labelFontSize": 14, "labelPadding": 2, "labelOverlap": false, "title": null}}}},
        {"transform": [{"aggregate": [{"op": "count", "as": "n"}]}], "mark": {"type": "rule", "color": "#222", "strokeWidth": 1},
          "encoding": {
            "x": {"datum": -1.49485, "type": "quantitative", "scale": {"domain": [-2.59, -0.49485], "nice": false, "zero": false},
              "axis": {"values": [-2.315, -2.065, -1.815, -1.49485, -1, -0.49485], "domain": false, "offset": 30, "tickSize": 4, "title": null, "labelExpr": "datum.value === -2.065 ? 'C' : datum.value === -1.49485 ? '0.032' : datum.value === -1 ? '0.1' : datum.value === -0.49485 ? '0.32' : ''", "labelFontSize": 15, "labelPadding": 7, "labelFlush": false, "labelOverlap": false}},
            "x2": {"datum": -0.49485},
            "y": {"datum": -0.645, "type": "quantitative", "scale": {"domain": [0, 4], "nice": false, "zero": false},
              "axis": {"values": [0, 0.5, 1, 1.5, 2, 2.5, 3, 3.5, 4], "labelExpr": "datum.value % 1 === 0 ? format(datum.value, '.1f') : ''", "tickSize": {"condition": {"test": "datum.value % 1 !== 0", "value": 3}, "value": 6}, "labelFontSize": 14, "labelPadding": 2, "labelOverlap": false, "title": null}}}},
        {"transform": [{"filter": "isValid(datum.err)"}], "mark": {"type": "rule", "color": "#222", "strokeWidth": 1},
          "encoding": {
            "x": {"field": "xpos", "type": "quantitative", "scale": {"domain": [-2.59, -0.49485], "nice": false, "zero": false},
              "axis": {"values": [-2.315, -2.065, -1.815, -1.49485, -1, -0.49485], "domain": false, "offset": 30, "tickSize": 4, "title": null, "labelExpr": "datum.value === -2.065 ? 'C' : datum.value === -1.49485 ? '0.032' : datum.value === -1 ? '0.1' : datum.value === -0.49485 ? '0.32' : ''", "labelFontSize": 15, "labelPadding": 7, "labelFlush": false, "labelOverlap": false}},
            "y": {"field": "val", "type": "quantitative", "scale": {"domain": [0, 4], "nice": false, "zero": false},
              "axis": {"values": [0, 0.5, 1, 1.5, 2, 2.5, 3, 3.5, 4], "labelExpr": "datum.value % 1 === 0 ? format(datum.value, '.1f') : ''", "tickSize": {"condition": {"test": "datum.value % 1 !== 0", "value": 3}, "value": 6}, "labelFontSize": 14, "labelPadding": 2, "labelOverlap": false, "title": null}},
            "y2": {"field": "err"}}},
        {"transform": [{"filter": "isValid(datum.err)"}], "mark": {"type": "tick", "orient": "horizontal", "color": "#222", "size": 17, "thickness": 1, "opacity": 1},
          "encoding": {
            "x": {"field": "xpos", "type": "quantitative", "scale": {"domain": [-2.59, -0.49485], "nice": false, "zero": false},
              "axis": {"values": [-2.315, -2.065, -1.815, -1.49485, -1, -0.49485], "domain": false, "offset": 30, "tickSize": 4, "title": null, "labelExpr": "datum.value === -2.065 ? 'C' : datum.value === -1.49485 ? '0.032' : datum.value === -1 ? '0.1' : datum.value === -0.49485 ? '0.32' : ''", "labelFontSize": 15, "labelPadding": 7, "labelFlush": false, "labelOverlap": false}},
            "y": {"field": "err", "type": "quantitative", "scale": {"domain": [0, 4], "nice": false, "zero": false},
              "axis": {"values": [0, 0.5, 1, 1.5, 2, 2.5, 3, 3.5, 4], "labelExpr": "datum.value % 1 === 0 ? format(datum.value, '.1f') : ''", "tickSize": {"condition": {"test": "datum.value % 1 !== 0", "value": 3}, "value": 6}, "labelFontSize": 14, "labelPadding": 2, "labelOverlap": false, "title": null}}}},
        {"transform": [{"filter": "datum.dose !== 'C'"}], "mark": {"type": "line", "color": "#111", "strokeWidth": 1},
          "encoding": {
            "x": {"field": "xpos", "type": "quantitative", "scale": {"domain": [-2.59, -0.49485], "nice": false, "zero": false},
              "axis": {"values": [-2.315, -2.065, -1.815, -1.49485, -1, -0.49485], "domain": false, "offset": 30, "tickSize": 4, "title": null, "labelExpr": "datum.value === -2.065 ? 'C' : datum.value === -1.49485 ? '0.032' : datum.value === -1 ? '0.1' : datum.value === -0.49485 ? '0.32' : ''", "labelFontSize": 15, "labelPadding": 7, "labelFlush": false, "labelOverlap": false}},
            "y": {"field": "val", "type": "quantitative", "scale": {"domain": [0, 4], "nice": false, "zero": false},
              "axis": {"values": [0, 0.5, 1, 1.5, 2, 2.5, 3, 3.5, 4], "labelExpr": "datum.value % 1 === 0 ? format(datum.value, '.1f') : ''", "tickSize": {"condition": {"test": "datum.value % 1 !== 0", "value": 3}, "value": 6}, "labelFontSize": 14, "labelPadding": 2, "labelOverlap": false, "title": null}},
            "detail": {"field": "grp"}}},
        {"mark": {"type": "point", "filled": true, "stroke": "black", "strokeWidth": 1, "opacity": 1, "size": 289},
          "encoding": {
            "x": {"field": "xpos", "type": "quantitative", "scale": {"domain": [-2.59, -0.49485], "nice": false, "zero": false},
              "axis": {"values": [-2.315, -2.065, -1.815, -1.49485, -1, -0.49485], "domain": false, "offset": 30, "tickSize": 4, "title": null, "labelExpr": "datum.value === -2.065 ? 'C' : datum.value === -1.49485 ? '0.032' : datum.value === -1 ? '0.1' : datum.value === -0.49485 ? '0.32' : ''", "labelFontSize": 15, "labelPadding": 7, "labelFlush": false, "labelOverlap": false}},
            "y": {"field": "val", "type": "quantitative", "scale": {"domain": [0, 4], "nice": false, "zero": false},
              "axis": {"values": [0, 0.5, 1, 1.5, 2, 2.5, 3, 3.5, 4], "labelExpr": "datum.value % 1 === 0 ? format(datum.value, '.1f') : ''", "tickSize": {"condition": {"test": "datum.value % 1 !== 0", "value": 3}, "value": 6}, "labelFontSize": 14, "labelPadding": 2, "labelOverlap": false, "title": null}},
            "shape": {"field": "grp", "type": "nominal", "scale": {"domain": ["+ 0.0", "+ 1.0", "+ 3.2"], "range": ["circle", "M-0.85,-0.9L0.85,-0.9L0,1Z", "M0,-1L0.85,0.9L-0.85,0.9Z"]}, "legend": null},
            "fill": {"field": "grp", "type": "nominal", "scale": {"domain": ["+ 0.0", "+ 1.0", "+ 3.2"], "range": ["white", "black", "black"]}, "legend": null}
          }}
      ]
    }
  ]
}
